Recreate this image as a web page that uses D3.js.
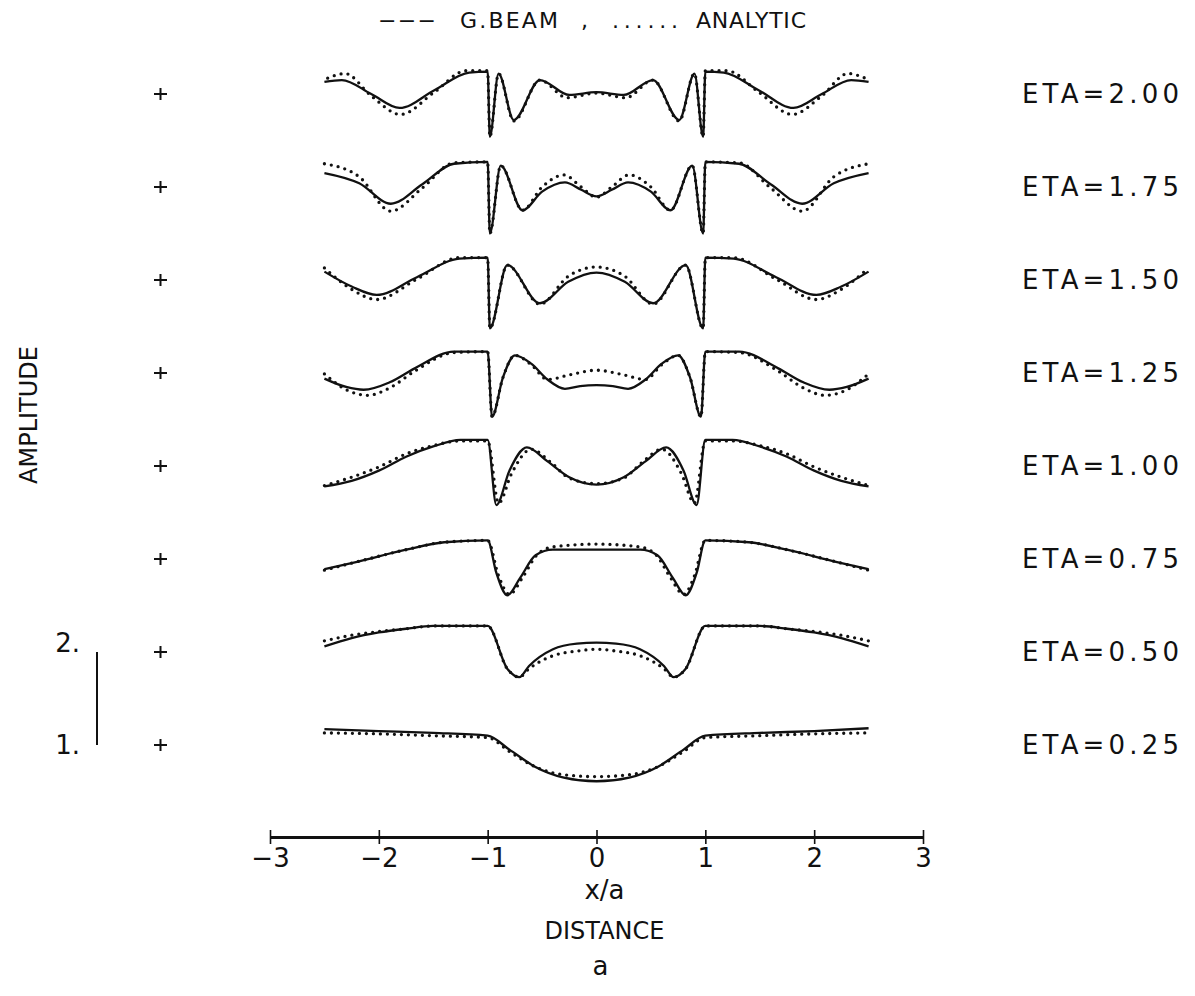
<!DOCTYPE html>
<html>
<head>
<meta charset="utf-8">
<script src="https://cdn.jsdelivr.net/npm/d3@7/dist/d3.min.js"></script>
<style>
  body { margin: 0; background: #fff; }
  text { font-family: "DejaVu Sans", "Liberation Sans", sans-serif; fill: #111; }
</style>
</head>
<body>
<div id="chart"></div>
<script>
// ETA values, top trace first
const etaLabels = ["ETA=2.00", "ETA=1.75", "ETA=1.50", "ETA=1.25", "ETA=1.00", "ETA=0.75", "ETA=0.50", "ETA=0.25"]
const xTicks = [-3, -2, -1, 0, 1, 2, 3]
const scaleTicks = [1, 2]

// [x/a, amplitude], G.BEAM (solid) and ANALYTIC (dotted)
const beam200 = [[-2.5,1.13],[-2.34,1.15],[-2.07,1.0],[-1.81,0.85],[-1.49,1.04],[-1.17,1.23],[-1.0,1.24],[-0.98,0.54],[-0.9,1.22],[-0.76,0.72],[-0.52,1.15],[-0.25,0.99],[0,1.02],[0.25,0.99],[0.52,1.15],[0.76,0.72],[0.9,1.22],[0.98,0.54],[1.0,1.24],[1.17,1.23],[1.49,1.04],[1.81,0.85],[2.07,1.0],[2.34,1.15],[2.5,1.13]]
const exact200 = [[-2.47,1.17],[-2.31,1.22],[-2.07,0.98],[-1.8,0.78],[-1.49,1.02],[-1.2,1.25],[-1.0,1.25],[-0.98,0.54],[-0.9,1.22],[-0.76,0.71],[-0.52,1.15],[-0.27,0.96],[0,1.01],[0.27,0.96],[0.52,1.15],[0.76,0.71],[0.9,1.22],[0.98,0.54],[1.0,1.25],[1.2,1.25],[1.49,1.02],[1.8,0.78],[2.07,0.98],[2.31,1.22],[2.47,1.17]]

const beam175 = [[-2.5,1.15],[-2.18,1.04],[-1.89,0.82],[-1.6,1.03],[-1.31,1.25],[-1.0,1.27],[-0.98,0.5],[-0.88,1.23],[-0.68,0.75],[-0.5,0.95],[-0.29,1.05],[-0.14,0.97],[0,0.9],[0.14,0.97],[0.29,1.05],[0.5,0.95],[0.68,0.75],[0.88,1.23],[0.98,0.5],[1.0,1.27],[1.31,1.25],[1.6,1.03],[1.89,0.82],[2.18,1.04],[2.5,1.15]]
const exact175 = [[-2.5,1.25],[-2.18,1.11],[-1.89,0.74],[-1.6,0.99],[-1.31,1.26],[-1.0,1.27],[-0.98,0.5],[-0.88,1.23],[-0.68,0.75],[-0.5,1.0],[-0.3,1.13],[-0.14,1.0],[0,0.89],[0.14,1.0],[0.3,1.13],[0.5,1.0],[0.68,0.75],[0.88,1.23],[0.98,0.5],[1.0,1.27],[1.31,1.26],[1.6,0.99],[1.89,0.74],[2.18,1.11],[2.5,1.25]]

const beam150 = [[-2.5,1.09],[-2.25,0.93],[-2.02,0.84],[-1.65,1.03],[-1.26,1.23],[-1.0,1.24],[-0.98,0.48],[-0.82,1.16],[-0.52,0.75],[-0.26,0.98],[0,1.08],[0.26,0.98],[0.52,0.75],[0.82,1.16],[0.98,0.48],[1.0,1.24],[1.26,1.23],[1.65,1.03],[2.02,0.84],[2.25,0.93],[2.5,1.09]]
const exact150 = [[-2.5,1.13],[-2.25,0.9],[-2.02,0.79],[-1.65,1.01],[-1.26,1.24],[-1.0,1.24],[-0.98,0.48],[-0.82,1.16],[-0.52,0.74],[-0.26,1.04],[0,1.14],[0.26,1.04],[0.52,0.74],[0.82,1.16],[0.98,0.48],[1.0,1.24],[1.26,1.24],[1.65,1.01],[2.02,0.79],[2.25,0.9],[2.5,1.13]]

const beam125 = [[-2.5,0.94],[-2.3,0.85],[-2.14,0.82],[-1.9,0.9],[-1.67,1.05],[-1.31,1.23],[-1.0,1.23],[-0.96,0.53],[-0.86,0.95],[-0.75,1.19],[-0.6,1.1],[-0.45,0.93],[-0.29,0.83],[-0.15,0.86],[0,0.87],[0.15,0.86],[0.29,0.83],[0.45,0.93],[0.6,1.1],[0.75,1.19],[0.86,0.95],[0.96,0.53],[1.0,1.23],[1.31,1.23],[1.67,1.05],[1.9,0.9],[2.14,0.82],[2.3,0.85],[2.5,0.94]]
const exact125 = [[-2.5,0.99],[-2.3,0.82],[-2.1,0.76],[-1.9,0.84],[-1.67,1.02],[-1.31,1.22],[-1.0,1.23],[-0.96,0.53],[-0.86,0.95],[-0.75,1.19],[-0.6,1.09],[-0.45,0.93],[-0.25,0.98],[0,1.03],[0.25,0.98],[0.45,0.93],[0.6,1.09],[0.75,1.19],[0.86,0.95],[0.96,0.53],[1.0,1.23],[1.31,1.22],[1.67,1.02],[1.9,0.84],[2.1,0.76],[2.3,0.82],[2.5,0.99]]

const beam100 = [[-2.5,0.78],[-2.25,0.84],[-2.0,0.95],[-1.75,1.1],[-1.5,1.21],[-1.25,1.28],[-1.0,1.28],[-0.92,0.58],[-0.8,0.95],[-0.64,1.2],[-0.45,1.05],[-0.25,0.88],[0,0.8],[0.25,0.88],[0.45,1.05],[0.64,1.2],[0.8,0.95],[0.92,0.58],[1.0,1.28],[1.25,1.28],[1.5,1.21],[1.75,1.1],[2.0,0.95],[2.25,0.84],[2.5,0.78]]
const exact100 = [[-2.5,0.79],[-2.25,0.88],[-2.0,0.99],[-1.75,1.13],[-1.5,1.22],[-1.25,1.27],[-1.0,1.27],[-0.9,0.6],[-0.78,0.92],[-0.6,1.18],[-0.42,1.04],[-0.25,0.87],[0,0.81],[0.25,0.87],[0.42,1.04],[0.6,1.18],[0.78,0.92],[0.9,0.6],[1.0,1.27],[1.25,1.27],[1.5,1.22],[1.75,1.13],[2.0,0.99],[2.25,0.88],[2.5,0.79]]

const beam075 = [[-2.5,0.89],[-2.2,0.97],[-1.75,1.1],[-1.4,1.18],[-1.0,1.2],[-0.92,0.85],[-0.82,0.61],[-0.7,0.8],[-0.56,1.04],[-0.4,1.1],[0,1.1],[0.4,1.1],[0.56,1.04],[0.7,0.8],[0.82,0.61],[0.92,0.85],[1.0,1.2],[1.4,1.18],[1.75,1.1],[2.2,0.97],[2.5,0.89]]
const exact075 = [[-2.5,0.88],[-2.2,0.97],[-1.75,1.1],[-1.4,1.18],[-1.0,1.2],[-0.9,0.82],[-0.8,0.62],[-0.68,0.8],[-0.55,1.04],[-0.4,1.13],[0,1.16],[0.4,1.13],[0.55,1.04],[0.68,0.8],[0.8,0.62],[0.9,0.82],[1.0,1.2],[1.4,1.18],[1.75,1.1],[2.2,0.97],[2.5,0.88]]

const beam050 = [[-2.5,1.06],[-2.25,1.15],[-2.0,1.21],[-1.75,1.25],[-1.5,1.28],[-1.0,1.28],[-0.82,0.82],[-0.71,0.73],[-0.62,0.85],[-0.4,1.03],[-0.18,1.09],[0,1.1],[0.18,1.09],[0.4,1.03],[0.62,0.85],[0.71,0.73],[0.82,0.82],[1.0,1.28],[1.5,1.28],[1.75,1.25],[2.0,1.21],[2.25,1.15],[2.5,1.06]]
const exact050 = [[-2.5,1.12],[-2.25,1.18],[-2.0,1.22],[-1.75,1.25],[-1.5,1.28],[-1.0,1.28],[-0.82,0.82],[-0.71,0.73],[-0.62,0.82],[-0.4,0.96],[-0.18,1.01],[0,1.03],[0.18,1.01],[0.4,0.96],[0.62,0.82],[0.71,0.73],[0.82,0.82],[1.0,1.28],[1.5,1.28],[1.75,1.25],[2.0,1.22],[2.25,1.18],[2.5,1.12]]

const beam025 = [[-2.5,1.17],[-2.0,1.15],[-1.5,1.13],[-1.0,1.1],[-0.8,0.95],[-0.57,0.77],[-0.3,0.65],[0,0.61],[0.3,0.65],[0.57,0.77],[0.8,0.95],[1.0,1.1],[1.5,1.13],[2.0,1.15],[2.5,1.18]]
const exact025 = [[-2.5,1.13],[-2.0,1.12],[-1.5,1.1],[-1.0,1.08],[-0.8,0.93],[-0.57,0.77],[-0.3,0.68],[0,0.66],[0.3,0.68],[0.57,0.77],[0.8,0.93],[1.0,1.08],[1.5,1.1],[2.0,1.12],[2.5,1.13]]

const beams = [beam200, beam175, beam150, beam125, beam100, beam075, beam050, beam025]
const exacts = [exact200, exact175, exact150, exact125, exact100, exact075, exact050, exact025]

// legend pieces: [text, left edge, width]
const legendParts = [["−−−", 378, 58], ["G.BEAM", 460, 98], [",", 581, 6], ["......", 612, 66], ["ANALYTIC", 696, 110]]

const width = 1195
const height = 996

const svg = d3.select("#chart")
  .append("svg")
    .attr("width", width)
    .attr("height", height)

svg.append("rect").attr("width", width).attr("height", height).attr("fill", "#fff")

const xScale = d3.scaleLinear().domain([-3, 3]).range([270, 923])
// one amplitude unit between neighbouring traces
const yScale = d3.scaleLinear().domain([1, 2]).range([745, 652])

// each trace sits one unit above the next; the bottom one has offset 0
const offsetOf = i => etaLabels.length - 1 - i

const lineGen = off => d3.line()
  .curve(d3.curveMonotoneX)
  .x(d => xScale(d[0]))
  .y(d => yScale(d[1] + off))

const traces = svg.append("g")

beams.forEach((pts, i) => {
  traces.append("path")
    .datum(pts)
    .attr("fill", "none")
    .attr("stroke", "#111")
    .attr("stroke-width", 2.3)
    .attr("stroke-linejoin", "round")
    .attr("d", lineGen(offsetOf(i)))
})

exacts.forEach((pts, i) => {
  traces.append("path")
    .datum(pts)
    .attr("fill", "none")
    .attr("stroke", "#111")
    .attr("stroke-width", 3.3)
    .attr("stroke-linecap", "round")
    .attr("stroke-dasharray", "0 7")
    .attr("d", lineGen(offsetOf(i)))
})

// reference crosses (amplitude 1 for each trace) and ETA labels
etaLabels.forEach((lab, i) => {
  const yy = yScale(1 + offsetOf(i))
  svg.append("path")
    .attr("d", `M154,${yy}h13M160.5,${yy - 6}v12`)
    .attr("stroke", "#111")
    .attr("stroke-width", 2)
  svg.append("text")
    .attr("x", 1022)
    .attr("y", yy)
    .attr("dy", "0.36em")
    .attr("font-size", 26)
    .attr("textLength", 157)
    .attr("lengthAdjust", "spacing")
    .text(lab)
})

// amplitude scale bar
svg.append("line")
  .attr("x1", 97).attr("x2", 97)
  .attr("y1", yScale(2)).attr("y2", yScale(1))
  .attr("stroke", "#111")
  .attr("stroke-width", 2)

svg.selectAll(".scaletick")
  .data(scaleTicks)
  .join("text")
    .attr("class", "scaletick")
    .attr("x", 80)
    .attr("y", d => yScale(d))
    .attr("dy", d => d === 2 ? "0.0em" : "0.36em")
    .attr("text-anchor", "end")
    .attr("font-size", 26)
    .text(d => d + ".")

// x axis
const xAxis = svg.append("g")
  .attr("transform", "translate(0,837)")
  .call(d3.axisBottom(xScale)
    .tickValues(xTicks)
    .tickFormat(d3.format("d"))
    .tickSizeOuter(0)
    .tickSizeInner(6)
    .tickPadding(6))

xAxis.select(".domain").attr("stroke-width", 2.8).attr("stroke", "#111")
xAxis.selectAll(".tick line").attr("y1", -7).attr("y2", 7).attr("stroke-width", 1.6).attr("stroke", "#111")
xAxis.selectAll(".tick text")
  .attr("font-size", 26)
  .attr("font-family", "DejaVu Sans, Liberation Sans, sans-serif")
  .attr("fill", "#111")

svg.append("text")
  .attr("x", xScale(0) + 8)
  .attr("y", 899)
  .attr("text-anchor", "middle")
  .attr("font-size", 26)
  .text("x/a")

svg.append("text")
  .attr("x", xScale(0) + 8)
  .attr("y", 939)
  .attr("text-anchor", "middle")
  .attr("font-size", 24)
  .text("DISTANCE")

svg.append("text")
  .attr("x", xScale(0) + 4)
  .attr("y", 975)
  .attr("text-anchor", "middle")
  .attr("font-size", 26)
  .text("a")

svg.append("text")
  .attr("transform", "translate(37,415) rotate(-90)")
  .attr("text-anchor", "middle")
  .attr("font-size", 24)
  .text("AMPLITUDE")

// legend line at the top
svg.selectAll(".legend")
  .data(legendParts)
  .join("text")
    .attr("class", "legend")
    .attr("x", d => d[1])
    .attr("y", 28)
    .attr("font-size", 22)
    .attr("textLength", d => d[2])
    .attr("lengthAdjust", "spacing")
    .text(d => d[0])
</script>
</body>
</html>
